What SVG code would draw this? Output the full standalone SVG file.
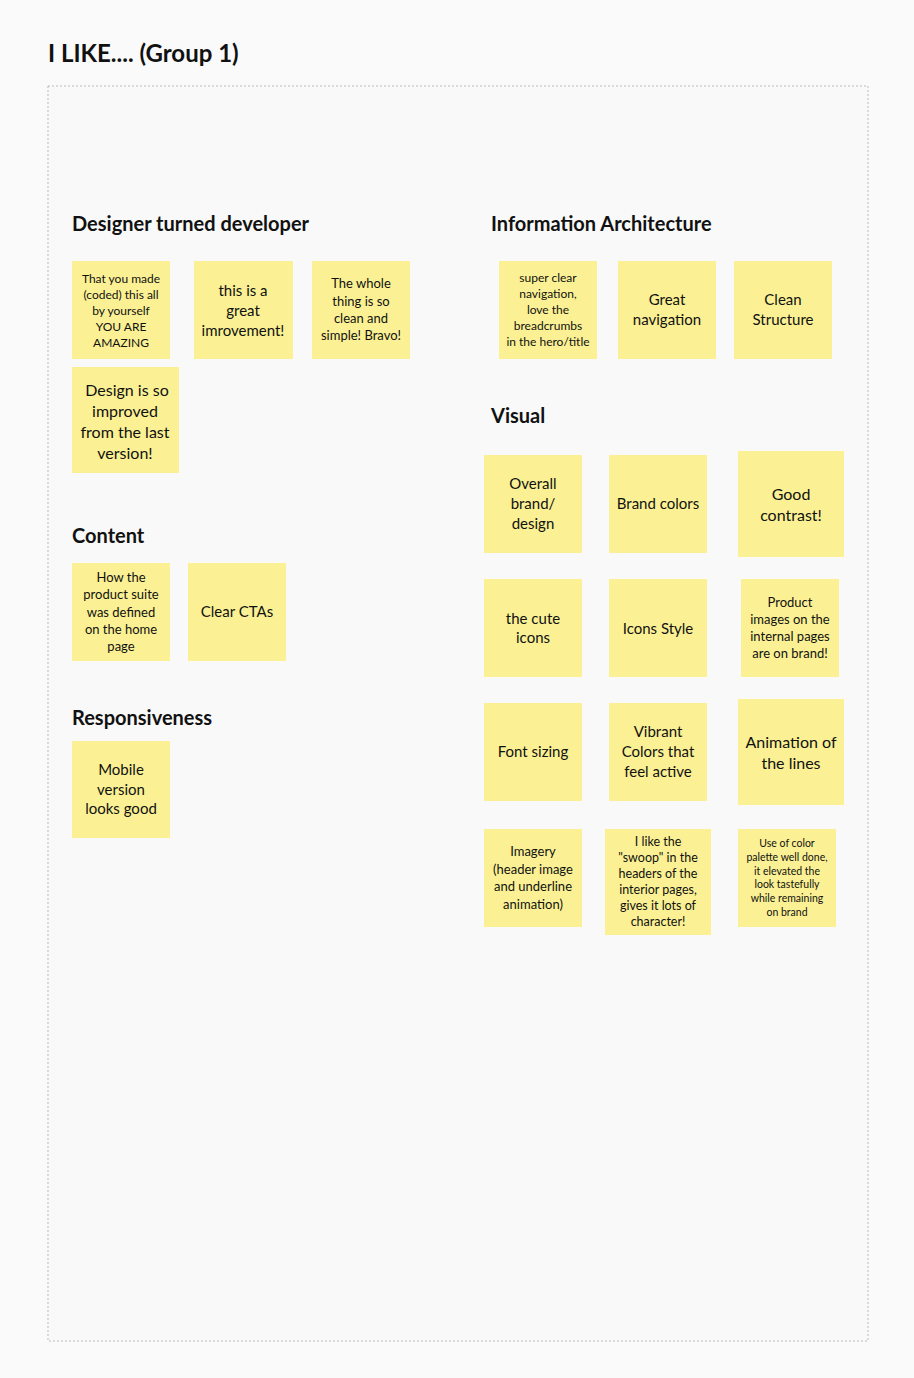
<svg xmlns="http://www.w3.org/2000/svg" width="914" height="1378" viewBox="0 0 914 1378">
<style>
text{font-family:"Lato","Liberation Sans",sans-serif;fill:#111}
.h{font-weight:bold;font-size:20px}
.s{fill:#fbf194}
.t{text-anchor:middle;dominant-baseline:central}
</style>
<rect width="914" height="1378" fill="#fafafa"/>
<text x="48" y="62" style="font-weight:bold;font-size:24px">I LIKE.... (Group 1)</text>
<rect x="48" y="86" width="820" height="1255" fill="#f9f9f9" stroke="#bbb" stroke-dasharray="2,2"/>
<text class="h" x="72" y="231">Designer turned developer</text>
<text class="h" x="491" y="231">Information Architecture</text>
<text class="h" x="491" y="423">Visual</text>
<text class="h" x="72" y="543">Content</text>
<text class="h" x="72" y="725">Responsiveness</text>
<g id="connectors"/>
<g id="n1"><rect class="s" x="72" y="261" width="98" height="98"/><text class="t" x="121" font-size="12"><tspan x="121" y="278">That you made</tspan><tspan x="121" y="294">(coded) this all</tspan><tspan x="121" y="310">by yourself</tspan><tspan x="121" y="326">YOU ARE</tspan><tspan x="121" y="342">AMAZING</tspan></text></g>
<g id="n2"><rect class="s" x="194" y="261" width="99" height="98"/><text class="t" font-size="15"><tspan x="243" y="290">this is a</tspan><tspan x="243" y="310">great</tspan><tspan x="243" y="330">imrovement!</tspan></text></g>
<g id="n3"><rect class="s" x="312" y="261" width="98" height="98"/><text class="t" font-size="13"><tspan x="361" y="283">The whole</tspan><tspan x="361" y="301">thing is so</tspan><tspan x="361" y="318">clean and</tspan><tspan x="361" y="335">simple! Bravo!</tspan></text></g>
<g id="n4"><rect class="s" x="72" y="367" width="107" height="106"/><text class="t" font-size="16"><tspan x="127" y="389">Design is so</tspan><tspan x="125" y="410">improved</tspan><tspan x="125" y="431">from the last</tspan><tspan x="125" y="452">version!</tspan></text></g>
<g id="n5"><rect class="s" x="72" y="563" width="98" height="98"/><text class="t" font-size="13"><tspan x="121" y="577">How the</tspan><tspan x="121" y="594">product suite</tspan><tspan x="121" y="612">was defined</tspan><tspan x="121" y="629">on the home</tspan><tspan x="121" y="646">page</tspan></text></g>
<g id="n6"><rect class="s" x="188" y="563" width="98" height="98"/><text class="t" font-size="15" x="237" y="611">Clear CTAs</text></g>
<g id="n7"><rect class="s" x="72" y="741" width="98" height="97"/><text class="t" font-size="15"><tspan x="121" y="769">Mobile</tspan><tspan x="121" y="789">version</tspan><tspan x="121" y="808">looks good</tspan></text></g>
<g id="n8"><rect class="s" x="499" y="261" width="98" height="98"/><text class="t" font-size="12"><tspan x="548" y="277">super clear</tspan><tspan x="548" y="293">navigation,</tspan><tspan x="548" y="309">love the</tspan><tspan x="548" y="325">breadcrumbs</tspan><tspan x="548" y="341">in the hero/title</tspan></text></g>
<g id="n9"><rect class="s" x="618" y="261" width="98" height="98"/><text class="t" font-size="15"><tspan x="667" y="299">Great</tspan><tspan x="667" y="319">navigation</tspan></text></g>
<g id="n10"><rect class="s" x="734" y="261" width="98" height="98"/><text class="t" font-size="15"><tspan x="783" y="299">Clean</tspan><tspan x="783" y="319">Structure</tspan></text></g>
<g id="n11"><rect class="s" x="484" y="455" width="98" height="98"/><text class="t" font-size="15"><tspan x="533" y="483">Overall</tspan><tspan x="533" y="503">brand/</tspan><tspan x="533" y="523">design</tspan></text></g>
<g id="n12"><rect class="s" x="609" y="455" width="98" height="98"/><text class="t" font-size="15" x="658" y="503">Brand colors</text></g>
<g id="n13"><rect class="s" x="738" y="451" width="106" height="106"/><text class="t" font-size="16"><tspan x="791" y="493">Good</tspan><tspan x="791" y="514">contrast!</tspan></text></g>
<g id="n14"><rect class="s" x="484" y="579" width="98" height="98"/><text class="t" font-size="15"><tspan x="533" y="618">the cute</tspan><tspan x="533" y="637">icons</tspan></text></g>
<g id="n15"><rect class="s" x="609" y="579" width="98" height="98"/><text class="t" font-size="15" x="658" y="628">Icons Style</text></g>
<g id="n16"><rect class="s" x="741" y="579" width="98" height="98"/><text class="t" font-size="13"><tspan x="790" y="602">Product</tspan><tspan x="790" y="619">images on the</tspan><tspan x="790" y="636">internal pages</tspan><tspan x="790" y="653">are on brand!</tspan></text></g>
<g id="n17"><rect class="s" x="484" y="703" width="98" height="98"/><text class="t" font-size="15" x="533" y="751">Font sizing</text></g>
<g id="n18"><rect class="s" x="609" y="703" width="98" height="98"/><text class="t" font-size="15"><tspan x="658" y="731">Vibrant</tspan><tspan x="658" y="751">Colors that</tspan><tspan x="658" y="771">feel active</tspan></text></g>
<g id="n19"><rect class="s" x="738" y="699" width="106" height="106"/><text class="t" font-size="16"><tspan x="791" y="741">Animation of</tspan><tspan x="791" y="762">the lines</tspan></text></g>
<g id="n20"><rect class="s" x="484" y="829" width="98" height="98"/><text class="t" font-size="13"><tspan x="533" y="851">Imagery</tspan><tspan x="533" y="869">(header image</tspan><tspan x="533" y="886">and underline</tspan><tspan x="533" y="904">animation)</tspan></text></g>
<g id="n21"><rect class="s" x="605" y="829" width="106" height="106"/><text class="t" font-size="12.5"><tspan x="658" y="841">I like the</tspan><tspan x="658" y="857">"swoop" in the</tspan><tspan x="658" y="873">headers of the</tspan><tspan x="658" y="889">interior pages,</tspan><tspan x="658" y="905">gives it lots of</tspan><tspan x="658" y="921">character!</tspan></text></g>
<g id="n22"><rect class="s" x="738" y="829" width="98" height="98"/><text class="t" font-size="10.5"><tspan x="787" y="843">Use of color</tspan><tspan x="787" y="857">palette well done,</tspan><tspan x="787" y="871">it elevated the</tspan><tspan x="787" y="884">look tastefully</tspan><tspan x="787" y="898">while remaining</tspan><tspan x="787" y="912">on brand</tspan></text></g>
</svg>
